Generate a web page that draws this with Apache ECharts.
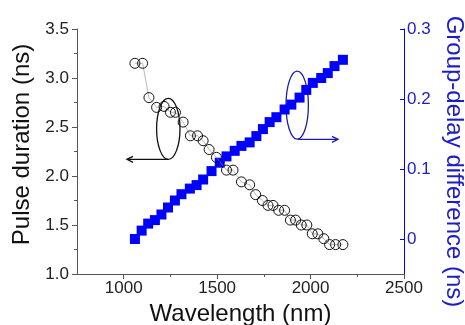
<!DOCTYPE html>
<html>
<head>
<meta charset="utf-8">
<script src="https://cdn.jsdelivr.net/npm/echarts@6/dist/echarts.min.js"></script>
<style>
  html, body { margin: 0; padding: 0; background: #fff; }
  #chart { width: 465px; height: 325px; }
</style>
</head>
<body>
<div id="chart"></div>
<script>
// pulse duration (ns) vs wavelength (nm), open circles, left axis
var pulseWl = [1060, 1101, 1135, 1176, 1216, 1250, 1277, 1318, 1357, 1395, 1425, 1457, 1496,
  1550, 1585, 1630, 1674, 1706, 1742, 1772, 1799, 1829, 1861, 1892, 1920, 1950, 1980,
  2009, 2039, 2071, 2102, 2134, 2173];
var pulseNs = [3.15, 3.15, 2.80, 2.70, 2.71, 2.65, 2.65, 2.55, 2.41, 2.41, 2.36, 2.27, 2.19,
  2.06, 2.06, 1.94, 1.91, 1.81, 1.75, 1.70, 1.70, 1.65, 1.65, 1.55, 1.55, 1.50, 1.50,
  1.41, 1.41, 1.36, 1.30, 1.30, 1.30];

// group-delay difference (ns), filled squares, right axis
var delayWl = [1060, 1096, 1131, 1167, 1202, 1237, 1274, 1309, 1354, 1390, 1425, 1470, 1514,
  1550, 1594, 1630, 1674, 1710, 1745, 1781, 1817, 1861, 1897, 1941, 1977, 2012, 2057,
  2092, 2128, 2173];
var delayNs = [0, 0.012, 0.022, 0.027, 0.035, 0.045, 0.055, 0.064, 0.072, 0.077, 0.085, 0.097, 0.109,
  0.118, 0.126, 0.133, 0.138, 0.147, 0.157, 0.167, 0.174, 0.185, 0.192, 0.202, 0.213, 0.223, 0.230,
  0.237, 0.247, 0.256];

var xMajor = [1000, 1500, 2000, 2500];
var xMinor = [1250, 1750, 2250];
var rightTicks = [0, 0.1, 0.2, 0.3];

var font = "'Liberation Sans', Arial, sans-serif";
var blue = "#0000ff";
var blueText = "#1c1cc8";

function pairs(xs, ys) {
  return xs.map(function (x, i) { return [x, ys[i]]; });
}

var chart = echarts.init(document.getElementById("chart"));

var option = {
  animation: false,
  textStyle: { fontFamily: font },
  grid: { left: 77, right: 61, top: 29, bottom: 51, containLabel: false, outerBoundsMode: "none" },
  xAxis: [
    {
      type: "value",
      min: 750,
      max: 2500,
      interval: 250,
      name: "Wavelength (nm)",
      nameLocation: "middle",
      nameGap: 18,
      nameTextStyle: { fontSize: 24, color: "#111", fontFamily: font },
      axisLine: { show: true, onZero: false, lineStyle: { color: "#555", width: 1 } },
      axisTick: { show: true, length: 5, customValues: xMajor, lineStyle: { color: "#555" } },
      axisLabel: {
        customValues: xMajor, fontSize: 17, color: "#222", margin: 6, fontFamily: font,
        formatter: function (v) { return String(v); }
      },
      splitLine: { show: false }
    },
    {
      type: "value",
      min: 750,
      max: 2500,
      interval: 250,
      position: "bottom",
      axisLine: { show: false, onZero: false },
      axisTick: { show: true, length: 3, customValues: xMinor, lineStyle: { color: "#555" } },
      axisLabel: { show: false },
      splitLine: { show: false }
    }
  ],
  yAxis: [
    {
      type: "value",
      position: "left",
      min: 1,
      max: 3.5,
      interval: 0.5,
      name: "Pulse duration (ns)",
      nameLocation: "middle",
      nameGap: 41,
      nameRotate: 90,
      nameTextStyle: { fontSize: 24, color: "#111", fontFamily: font, padding: [0, 0, 0, 14] },
      axisLine: { show: true, onZero: false, lineStyle: { color: "#555", width: 1 } },
      axisTick: { show: true, length: 5, lineStyle: { color: "#555" } },
      minorTick: { show: true, splitNumber: 2, length: 3, lineStyle: { color: "#555" } },
      axisLabel: {
        fontSize: 17, color: "#222", margin: 8, fontFamily: font,
        formatter: function (v) { return v.toFixed(1); }
      },
      splitLine: { show: false }
    },
    {
      type: "value",
      position: "right",
      min: -0.05,
      max: 0.3,
      interval: 0.05,
      name: "Group-delay difference (ns)",
      nameLocation: "middle",
      nameGap: 31,
      nameRotate: -90,
      nameTextStyle: { fontSize: 24, color: blueText, fontFamily: font, padding: [0, 0, 0, 20] },
      axisLine: { show: true, onZero: false, lineStyle: { color: blue, width: 1 } },
      axisTick: { show: true, inside: true, length: 4, customValues: rightTicks, lineStyle: { color: blue } },
      axisLabel: {
        customValues: rightTicks, fontSize: 17, color: blueText, margin: 3, fontFamily: font,
        formatter: function (v) { return v === 0 ? "0" : String(+v.toFixed(2)); }
      },
      splitLine: { show: false }
    }
  ],
  series: [
    {
      name: "Group-delay difference",
      type: "line",
      xAxisIndex: 0,
      yAxisIndex: 1,
      data: pairs(delayWl, delayNs),
      symbol: "rect",
      symbolSize: 10,
      itemStyle: { color: blue },
      lineStyle: { color: blue, width: 1 },
      z: 2
    },
    {
      name: "Pulse duration",
      type: "line",
      xAxisIndex: 0,
      yAxisIndex: 0,
      data: pairs(pulseWl, pulseNs),
      symbol: "circle",
      symbolSize: 10,
      itemStyle: { color: "rgba(255,255,255,0)", borderColor: "#111", borderWidth: 1 },
      lineStyle: { color: "#888", width: 0.6 },
      z: 3
    }
  ],
  graphic: [
    // black ellipse with arrow pointing to the left axis
    { type: "ellipse", shape: { cx: 168.3, cy: 128.8, rx: 11.7, ry: 30.5 },
      style: { fill: "none", stroke: "#111", lineWidth: 1.3 } },
    { type: "line", shape: { x1: 168, y1: 159.3, x2: 127, y2: 159.3 },
      style: { stroke: "#111", lineWidth: 1.3 } },
    { type: "polyline", shape: { points: [[133, 156.3], [127, 159.3], [133, 162.3]] },
      style: { fill: "none", stroke: "#111", lineWidth: 1.3 } },
    // blue ellipse with arrow pointing to the right axis
    { type: "ellipse", shape: { cx: 297.2, cy: 105.2, rx: 11.2, ry: 34 },
      style: { fill: "none", stroke: "#1a1ab4", lineWidth: 1.3 } },
    { type: "line", shape: { x1: 298, y1: 139.3, x2: 338, y2: 139.3 },
      style: { stroke: "#1a1ab4", lineWidth: 1.3 } },
    { type: "polyline", shape: { points: [[332, 136.3], [338, 139.3], [332, 142.3]] },
      style: { fill: "none", stroke: "#1a1ab4", lineWidth: 1.3 } }
  ]
};

chart.setOption(option);
</script>
</body>
</html>
